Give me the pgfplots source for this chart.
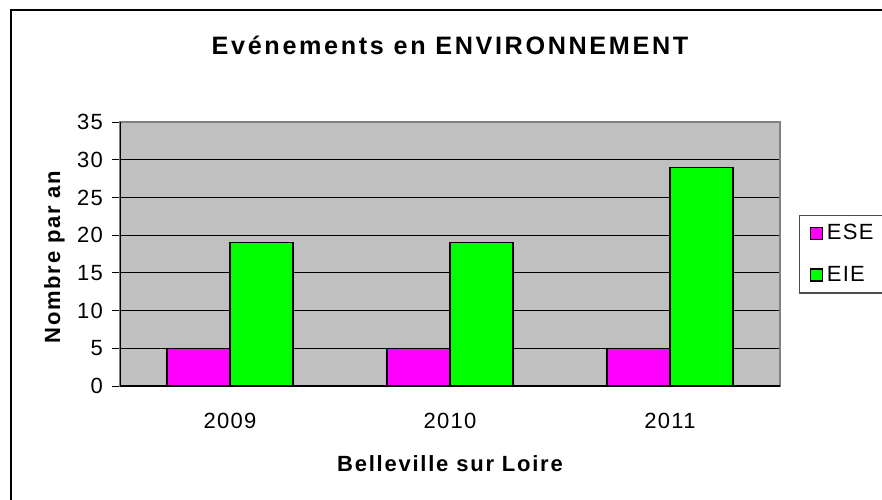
\documentclass[border=0pt]{standalone}
\usepackage{fontspec}
\setmainfont{Liberation Sans}
\newfontfamily\lsfont[LetterSpace=6]{Liberation Sans}
\newfontfamily\lblfont[LetterSpace=8]{Liberation Sans}
\newfontfamily\titlefont[LetterSpace=10.5]{Liberation Sans}
\usepackage{pgfplots}
\pgfplotsset{compat=1.18}
\definecolor{plotgray}{RGB}{192,192,192}
\definecolor{bordergray}{RGB}{128,128,128}
\definecolor{ese}{RGB}{255,0,255}
\definecolor{eie}{RGB}{0,255,0}
\newcommand\tfont{\lsfont\fontsize{11}{13}\selectfont}
\newcommand\lfont{\lblfont\bfseries\fontsize{11}{13}\selectfont}
\begin{document}
\begin{tikzpicture}
\useasboundingbox (0,0) rectangle (441pt,249.5pt);
\draw[line width=1pt] (5.5pt,-20pt) -- (5.5pt,244.5pt) -- (470pt,244.5pt);
\begin{axis}[
  at={(60pt,56.5pt)}, anchor=south west,
  scale only axis, width=330pt, height=132pt,
  xmin=0, xmax=3, ymin=0, ymax=35,
  ybar=0pt, bar width=31.5pt,
  xtick={0.5,1.5,2.5}, xticklabels={2009,2010,2011},
  minor xtick={0,1,2,3},
  ytick={0,5,...,35},
  tick pos=left,
  tick align=outside, major tick length=4pt, minor tick length=4pt,
  xtick style={draw=none},
  minor x tick style={black, line width=0.5pt},
  ytick style={black, line width=0.5pt},
  ymajorgrids, major grid style={black, line width=0.5pt},
  axis background/.style={fill=plotgray},
  axis line style={draw=bordergray, line width=0.6pt},
  /pgf/number format/assume math mode=true,
  every tick label/.append style={font=\tfont},
  xticklabel style={anchor=base, yshift=-17pt},
  yticklabel style={xshift=-1pt},
  title={\titlefont\bfseries\fontsize{12.6}{15}\selectfont Evénements en ENVIRONNEMENT},
  every axis title/.style={at={(rel axis cs:0.5,1)}, anchor=base, yshift=34pt},
  xlabel={\lfont Belleville sur Loire},
  every axis x label/.style={at={(rel axis cs:0.5,0)}, anchor=base, yshift=-42.5pt},
  ylabel={\lfont Nombre par an},
  every axis y label/.style={at={(rel axis cs:0,0.5)}, xshift=-30pt, yshift=-1.5pt, rotate=90, anchor=base},
  legend style={at={(rel axis cs:1.0288,0.648)}, anchor=north west,
    draw=black!70, line width=0.6pt, fill=white, font=\tfont,
    row sep=7.5pt, inner xsep=5pt, inner ysep=2.5pt,
    /tikz/every even column/.append style={column sep=3.5pt}},
  legend cell align=left,
  legend image code/.code={\draw[#1,draw=black,line width=0.6pt] (0pt,-3pt) rectangle (6pt,3pt);},
]
\addplot[fill=ese, draw=black, line width=0.6pt] coordinates {(0.5,5) (1.5,5) (2.5,5)};
\addplot[fill=eie, draw=black, line width=0.6pt] coordinates {(0.5,19) (1.5,19) (2.5,29)};
\legend{ESE\hspace*{20pt},EIE}
\draw[black, line width=0.6pt] (rel axis cs:0,1) -- (rel axis cs:0,0) -- (rel axis cs:1,0);
\end{axis}
\end{tikzpicture}
\end{document}
